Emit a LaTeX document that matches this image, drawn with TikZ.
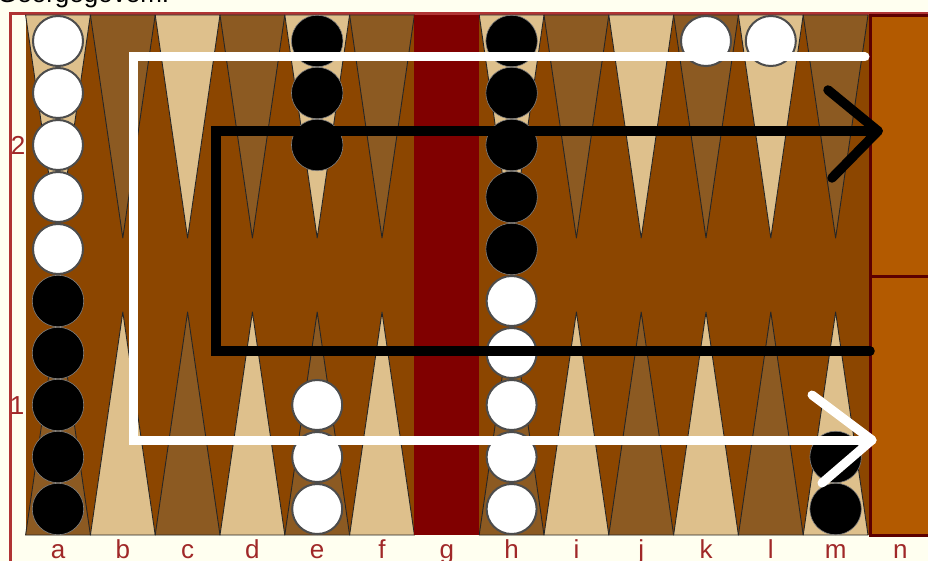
\documentclass[tikz,border=0pt]{standalone}
\usepackage{fontspec}
\setmainfont{Liberation Sans}
\usepackage{tikz}
\usetikzlibrary{positioning}
\definecolor{paper}{HTML}{FFFFF0}
\definecolor{frame}{HTML}{B03434}
\definecolor{felt}{HTML}{8C4600}
\definecolor{ptdark}{HTML}{8C5A22}
\definecolor{ptlight}{HTML}{DEC08C}
\definecolor{barred}{HTML}{800000}
\definecolor{tray}{HTML}{B35A00}
\definecolor{trayedge}{HTML}{5C0000}
\definecolor{coordred}{HTML}{A02828}

\begin{document}
\begin{tikzpicture}[x=1pt, y=-1pt,
  font=\fontsize{26}{30}\selectfont,
  tri/.style={draw=black!85, line width=0.9pt, line join=round},
  wchk/.style={circle, draw=black!70, line width=2pt, fill=white, minimum size=50pt, inner sep=0pt},
  bchk/.style={circle, draw=black!50, line width=0.6pt, fill=black, minimum size=51.5pt, inner sep=0pt},
  lbl/.style={color=coordred, anchor=base, inner sep=0pt},
  rank/.style={color=coordred, inner sep=0pt},
  wpath/.style={draw=white, line width=9pt, line cap=round, line join=miter},
  bpath/.style={draw=black, line width=9.5pt, line cap=round, line join=miter}
]
\useasboundingbox (0,0) rectangle (928,561);
\clip (0,0) rectangle (928,561);
\fill[paper] (0,0) rectangle (928,561);
\node[anchor=base west, inner sep=0pt] (site) at (-3,3) {Georgegovem.};

\draw[frame, line width=3pt] (10,561) -- (10,13.5) -- (928,13.5);
\fill[felt] (25.6,15) rectangle (869,535);
\foreach \i/\up/\dn in {0/ptlight/ptdark, 1/ptdark/ptlight, 2/ptlight/ptdark, 3/ptdark/ptlight,
                        4/ptlight/ptdark, 5/ptdark/ptlight, 7/ptlight/ptdark, 8/ptdark/ptlight,
                        9/ptlight/ptdark, 10/ptdark/ptlight, 11/ptlight/ptdark, 12/ptdark/ptlight} {
  \pgfmathsetmacro\xl{25.6+64.8*\i}
  \filldraw[tri, fill=\up] (\xl,15) -- ++(64.8,0) -- (\xl+32.4,238) -- cycle;
  \filldraw[tri, fill=\dn] (\xl,535) -- ++(64.8,0) -- (\xl+32.4,312) -- cycle;
}
\fill[barred] (414.4,15) rectangle (479.2,535);
\filldraw[fill=tray, draw=trayedge, line width=3pt] (870,16) rectangle (940,535);
\draw[trayedge, line width=3pt] (870,276.5) -- (940,276.5);

\foreach \n/\y in {1/41, 2/93, 3/145, 4/197, 5/249} {
  \node[wchk] (a\n) at (58,\y) {};
  \node[bchk] (h\n) at (511.6,\y) {};
}
\foreach \n/\y in {6/301, 7/353, 8/405, 9/457, 10/509} {
  \node[bchk] (a\n) at (58,\y) {};
  \node[wchk] (h\n) at (511.6,\y) {};
}
\foreach \n/\y in {1/41, 2/93, 3/145} {
  \node[bchk] (e\n) at (317.2,\y) {};
}
\foreach \n/\y in {4/405, 5/457, 6/509} {
  \node[wchk] (e\n) at (317.2,\y) {};
}
\node[wchk] (k1) at (706,41) {};
\node[wchk] (l1) at (770.8,41) {};
\node[bchk] (m1) at (835.6,457) {};
\node[bchk] (m2) at (835.6,509) {};

\coordinate (wfrom) at (865,57);
\coordinate (wturnA) at (133,57);
\coordinate (wturnB) at (133,440);
\coordinate (wtip) at (872,440);
\coordinate (wbarbup) at (812,395);
\coordinate (wbarblo) at (822,483);
\draw[wpath] (wfrom) -- (wturnA) -- (wturnB) -- (wtip);
\draw[wpath, line join=round] (wbarbup) -- (wtip) -- (wbarblo);

\coordinate (bfrom) at (870,351);
\coordinate (bturnA) at (216,351);
\coordinate (bturnB) at (216,131);
\coordinate (btip) at (878,131);
\coordinate (bbarbup) at (828,90);
\coordinate (bbarblo) at (832,178);
\draw[bpath] (bfrom) -- (bturnA) -- (bturnB) -- (btip);
\draw[bpath, line join=round] (bbarbup) -- (btip) -- (bbarblo);

\foreach \c [count=\k from 0] in {a,b,c,d,e,f,g,h,i,j,k,l,m,n} {
  \node[lbl] (lbl\c) at (58+64.8*\k,558) {\c};
}
\node[rank] (rank2) at (18,145) {2};
\node[rank] (rank1) at (17,406) {1};
\end{tikzpicture}
\end{document}
